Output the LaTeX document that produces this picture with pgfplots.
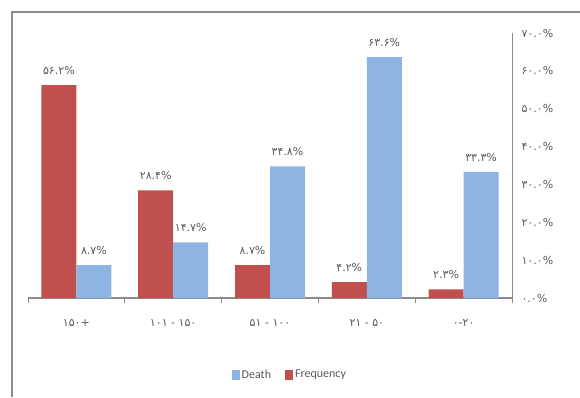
\documentclass[border=0pt]{standalone}
\usepackage{fontspec}
\usepackage{pgfplots}
\pgfplotsset{compat=1.18}
\newfontfamily\fa{DejaVu Sans}
\setsansfont{Carlito}
\definecolor{redbar}{HTML}{C0504D}
\definecolor{bluebar}{HTML}{8DB4E2}
\definecolor{axisgray}{HTML}{8C8C8C}
\definecolor{txtgray}{HTML}{595959}
\begin{document}
\begin{tikzpicture}
\useasboundingbox (-28pt,-99pt) rectangle (552pt,298pt);
\draw[axisgray, line width=1.2pt] (-16pt,-99pt) -- (-16pt,286pt) -- (552pt,286pt);
\begin{axis}[
  scale only axis,
  width=484pt, height=265pt,
  ybar=0pt, bar width=35pt,
  xmin=-0.5, xmax=4.5,
  ymin=0, ymax=70,
  axis x line*=bottom,
  axis y line*=right,
  x axis line style={axisgray, line width=1.6pt},
  y axis line style={axisgray, line width=0.8pt},
  xtick={0,1,2,3,4},
  xticklabels={{۱۵۰+},{۱۰۱ - ۱۵۰},{۵۱ - ۱۰۰},{۲۱ - ۵۰},{۰-۲۰}},
  major x tick style={draw=none},
  extra x ticks={-0.5,0.5,1.5,2.5,3.5,4.5},
  extra x tick labels={},
  extra x tick style={tick align=outside, major tick length=5pt, major x tick style={draw=axisgray, line width=0.8pt}},
  xticklabel style={font=\fa\fontsize{11}{12}\selectfont, text=txtgray, yshift=-14pt},
  ytick={0,10,20,30,40,50,60,70},
  yticklabels={{۰.۰\%},{۱۰.۰\%},{۲۰.۰\%},{۳۰.۰\%},{۴۰.۰\%},{۵۰.۰\%},{۶۰.۰\%},{۷۰.۰\%}},
  major y tick style={draw=none},
  yticklabel style={font=\fa\fontsize{11}{12}\selectfont, text=txtgray, xshift=6pt},
  point meta=explicit symbolic,
  nodes near coords,
  nodes near coords style={font=\fa\fontsize{11}{12}\selectfont, text=txtgray, yshift=7pt},
  legend style={at={(0.541,-0.29)}, anchor=center, draw=none, legend columns=2,
    font=\sffamily\fontsize{12}{14}\selectfont, text=txtgray,
    /tikz/every even column/.append style={column sep=12pt}},
  legend image code/.code={\fill[#1] (0pt,-5pt) rectangle (8pt,5pt);},
  reverse legend,
  clip=false,
]
\addplot[fill=redbar, draw=none] coordinates {
  (0,56.2) [۵۶.۲\%]
  (1,28.4) [۲۸.۴\%]
  (2,8.7) [۸.۷\%]
  (3,4.2) [۴.۲\%]
  (4,2.3) [۲.۳\%]
};
\addlegendentry{Frequency}
\addplot[fill=bluebar, draw=none] coordinates {
  (0,8.7) [۸.۷\%]
  (1,14.7) [۱۴.۷\%]
  (2,34.8) [۳۴.۸\%]
  (3,63.6) [۶۳.۶\%]
  (4,33.3) [۳۳.۳\%]
};
\addlegendentry{Death}
\end{axis}
\end{tikzpicture}
\end{document}
